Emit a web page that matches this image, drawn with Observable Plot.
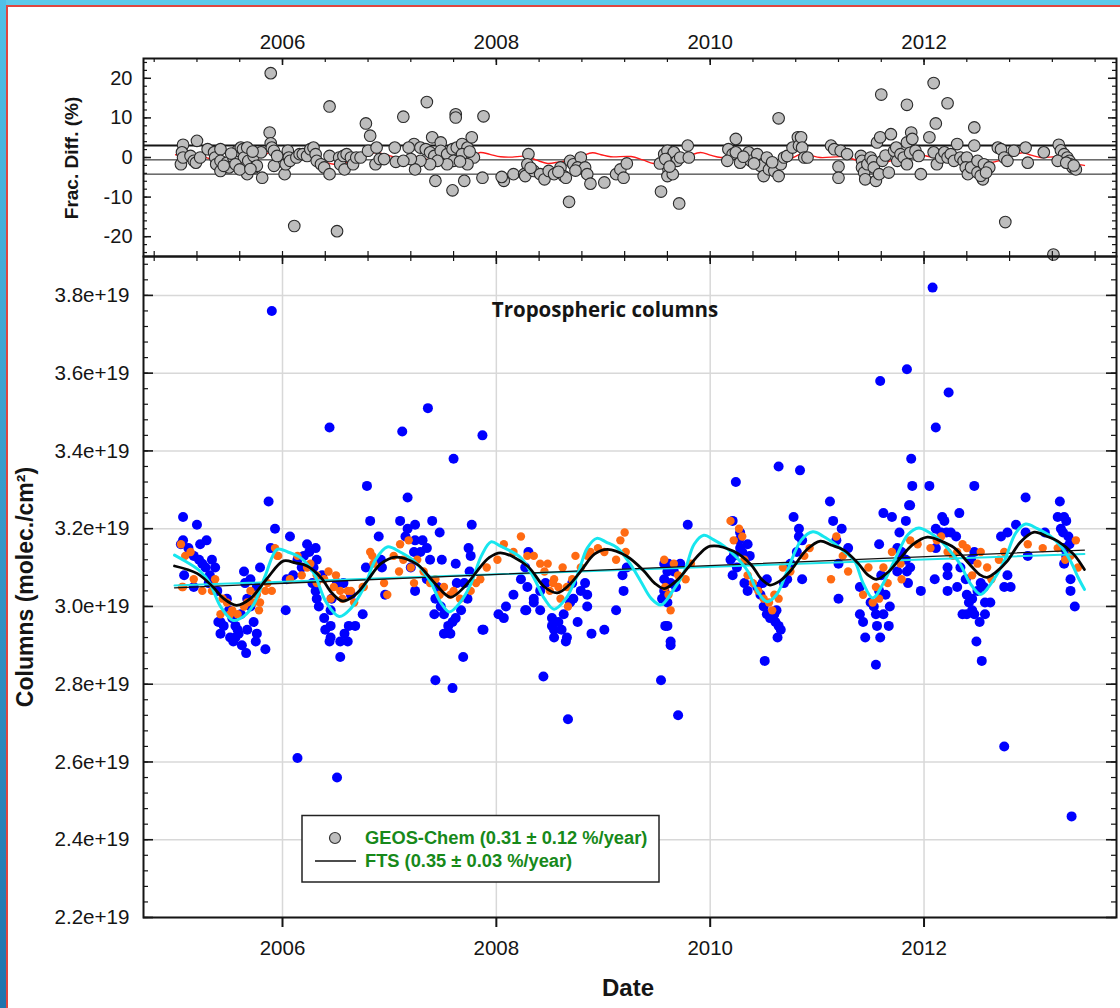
<!DOCTYPE html>
<html><head><meta charset="utf-8">
<script src="https://cdn.jsdelivr.net/npm/d3@7"></script>
<script src="https://cdn.jsdelivr.net/npm/@observablehq/plot@0.6"></script>
<style>
html,body{margin:0;padding:0;background:#fff;}
#page{position:relative;width:1120px;height:1008px;overflow:hidden;background:#fff;font-family:"Liberation Sans",Arial,sans-serif;}
.abs{position:absolute;}
</style></head><body>
<div id="page">
  <div id="top" class="abs" style="left:0;top:0"></div>
  <div id="main" class="abs" style="left:0;top:246px"></div>
  <svg id="overlay" class="abs" style="left:0;top:0;pointer-events:none" width="1120" height="1008"></svg>
  <div class="abs" style="left:0;top:0;width:1120px;height:5px;background:#5cc9ea"></div>
  <div class="abs" style="left:7px;top:5px;width:1113px;height:1.5px;background:#e0453f"></div>
  <div class="abs" style="left:0;top:0;width:6px;height:1008px;background:linear-gradient(#50c0e6,#1f74ad)"></div>
  <div class="abs" style="left:6px;top:5px;width:1.5px;height:1003px;background:#e0453f"></div>
</div>
<script>
// ---------------- data ----------------
const xDomain = [2004.70, 2013.80];
const xMajor = [2006, 2008, 2010, 2012];
const mainMajor = [2.2, 2.4, 2.6, 2.8, 3.0, 3.2, 3.4, 3.6, 3.8];
const fracMajor = [-20, -10, 0, 10, 20];
const fracMean = -0.6, fracStd = 3.6;
const chartTitle = "Tropospheric columns";
const legendLabels = ["GEOS-Chem (0.31 ± 0.12 %/year)", "FTS (0.35 ± 0.03 %/year)"];
const yTitle = "Columns (molec./cm²)", fracTitle = "Frac. Diff. (%)", xTitle = "Date";

// FTS observations (blue), value in 1e19 molec/cm2
const ftsObs = [
[2005.07,3.23],[2005.07,3.17],[2005.20,3.21],[2005.08,3.08],[2005.23,3.16],[2005.29,3.17],[2005.17,3.13],[2005.22,3.12],[2005.28,3.10],[2005.34,3.12],[2005.37,3.10],[2005.17,3.05],[2005.31,3.06],[2005.39,3.04],[2005.42,2.96],[2005.50,2.99],[2005.42,2.93],[2005.51,2.92],[2005.56,2.95],[2005.59,2.93],[2005.61,2.98],[2005.64,3.09],[2005.65,3.06],[2005.67,3.02],[2005.70,3.00],[2005.73,2.96],[2005.76,2.93],[2005.75,2.91],[2005.84,2.89],[2005.66,2.88],[2005.56,2.92],[2005.70,3.07],[2005.76,3.05],[2005.79,3.10],[2005.48,3.02],[2005.40,2.96],[2005.54,2.91],[2005.58,2.94],[2005.67,2.94],[2005.62,2.90],[2005.45,2.95],[2005.53,2.97],[2005.05,3.16],[2005.12,3.15],[2005.25,3.11],[2005.32,3.08],
[2005.90,3.76],[2005.87,3.27],[2005.93,3.20],[2005.89,3.15],
[2006.07,3.18],[2006.03,2.99],[2006.04,3.07],[2006.14,3.12],[2006.20,3.13],[2006.23,3.16],[2006.25,3.14],[2006.31,3.15],[2006.32,3.12],[2006.29,3.10],[2006.28,3.06],[2006.31,3.04],[2006.32,3.02],[2006.34,3.00],[2006.39,2.97],[2006.45,2.99],[2006.45,2.95],[2006.45,2.92],[2006.54,2.91],[2006.61,2.91],[2006.54,2.87],[2006.62,2.95],[2006.68,2.95],[2006.75,2.98],[2006.64,3.03],[2006.57,3.06],[2006.51,3.06],[2006.46,3.02],[2006.78,3.10],[2006.79,3.31],[2006.82,3.22],[2006.90,3.18],[2006.92,3.12],[2006.96,3.03],[2006.93,3.10],[2006.44,2.91],[2006.40,2.94],[2006.58,2.93],[2006.14,2.61],[2006.51,2.56],[2006.44,3.46],[2006.18,3.10],[2006.10,3.08],[2006.37,3.08],
[2007.10,3.22],[2007.17,3.28],[2007.17,3.20],[2007.15,3.18],[2007.24,3.21],[2007.24,3.17],[2007.31,3.17],[2007.29,3.14],[2007.23,3.14],[2007.40,3.22],[2007.47,3.19],[2007.35,3.15],[2007.38,3.12],[2007.24,3.04],[2007.35,3.07],[2007.43,3.02],[2007.42,2.98],[2007.48,3.00],[2007.51,2.98],[2007.51,2.93],[2007.57,2.93],[2007.59,2.96],[2007.62,2.97],[2007.67,2.99],[2007.63,3.06],[2007.49,3.12],[2007.62,3.11],[2007.70,3.06],[2007.73,3.02],[2007.75,3.09],[2007.74,3.15],[2007.76,3.13],[2007.77,3.21],[2007.87,2.94],[2007.69,2.87],[2007.43,2.81],[2007.59,2.79],[2007.12,3.45],[2007.36,3.51],[2007.60,3.38],[2007.87,3.44],[2007.88,2.94],[2007.55,2.95],[2007.45,3.05],[2007.20,3.10],
[2008.02,2.98],[2008.09,3.00],[2008.07,2.97],[2008.16,3.03],[2008.27,3.10],[2008.30,3.14],[2008.23,3.07],[2008.29,3.05],[2008.27,2.99],[2008.35,3.02],[2008.35,3.01],[2008.41,2.99],[2008.41,3.04],[2008.46,3.06],[2008.52,2.97],[2008.54,2.94],[2008.54,2.92],[2008.58,2.96],[2008.61,2.94],[2008.65,2.91],[2008.66,2.92],[2008.63,2.98],[2008.69,3.01],[2008.72,3.02],[2008.76,2.96],[2008.71,3.06],[2008.79,3.04],[2008.83,3.06],[2008.85,3.03],[2008.85,3.00],[2008.89,2.93],[2008.44,2.82],[2008.67,2.71],[2008.28,2.99],[2008.52,2.95],
[2009.01,2.94],[2009.12,2.99],[2009.19,3.04],[2009.18,3.08],[2009.22,3.10],[2009.79,3.21],[2009.57,3.11],[2009.61,3.11],[2009.72,3.11],[2009.60,3.09],[2009.66,3.09],[2009.57,3.07],[2009.63,3.06],[2009.68,3.05],[2009.57,3.04],[2009.55,3.02],[2009.60,3.01],[2009.58,2.95],[2009.63,2.91],[2009.63,2.90],[2009.60,2.95],[2009.54,2.81],[2009.70,2.72],[2009.64,3.10],
[2010.21,3.22],[2010.24,3.32],[2010.28,3.19],[2010.27,3.17],[2010.28,3.15],[2010.22,3.13],[2010.19,3.12],[2010.35,3.16],[2010.37,3.13],[2010.21,3.08],[2010.32,3.06],[2010.35,3.04],[2010.44,3.05],[2010.49,3.06],[2010.53,3.07],[2010.47,3.03],[2010.50,3.00],[2010.53,2.98],[2010.56,2.97],[2010.60,2.98],[2010.61,2.96],[2010.64,2.95],[2010.66,2.94],[2010.63,2.92],[2010.51,2.86],[2010.69,3.06],[2010.72,3.07],[2010.75,3.11],[2010.78,3.23],[2010.83,3.20],[2010.83,3.18],[2010.86,3.17],[2010.81,3.14],[2010.86,3.07],[2010.64,3.36],[2010.84,3.35],[2010.25,3.10],[2010.30,3.14],[2010.62,2.99],
[2011.12,3.27],[2011.15,3.22],[2011.23,3.20],[2011.18,3.17],[2011.29,3.15],[2011.20,3.11],[2011.20,3.02],[2011.40,3.05],[2011.40,2.98],[2011.43,2.96],[2011.45,2.92],[2011.53,3.00],[2011.55,2.98],[2011.56,2.95],[2011.59,2.92],[2011.62,2.98],[2011.67,2.95],[2011.68,3.00],[2011.64,3.03],[2011.58,3.04],[2011.58,3.16],[2011.62,3.24],[2011.70,3.23],[2011.75,3.15],[2011.77,3.19],[2011.77,3.12],[2011.83,3.22],[2011.86,3.26],[2011.89,3.31],[2011.88,3.38],[2011.83,3.12],[2011.84,3.09],[2011.87,3.10],[2011.85,3.06],[2011.97,3.04],[2011.79,3.14],[2011.75,3.09],[2011.55,2.85],[2011.59,3.58],[2011.84,3.61],[2011.87,3.26],[2011.50,3.01],[2011.60,3.08],
[2012.05,3.31],[2012.11,3.20],[2012.17,3.23],[2012.19,3.22],[2012.16,3.19],[2012.21,3.19],[2012.25,3.19],[2012.30,3.18],[2012.33,3.24],[2012.11,3.15],[2012.22,3.10],[2012.22,3.08],[2012.10,3.07],[2012.22,3.04],[2012.31,3.05],[2012.34,3.10],[2012.39,3.07],[2012.44,3.12],[2012.47,3.14],[2012.40,3.03],[2012.36,2.98],[2012.40,2.98],[2012.45,2.99],[2012.45,3.02],[2012.50,3.04],[2012.53,3.06],[2012.56,3.05],[2012.57,3.01],[2012.62,3.01],[2012.57,2.98],[2012.47,2.98],[2012.49,2.91],[2012.54,2.86],[2012.47,3.31],[2012.75,3.05],[2012.81,3.05],[2012.78,3.08],[2012.72,3.18],[2012.78,3.19],[2012.86,3.21],[2012.95,3.28],[2012.97,3.13],[2012.95,3.19],[2012.08,3.82],[2012.11,3.46],[2012.23,3.55],[2012.75,2.64],[2012.52,2.96],[2012.42,3.01],
[2013.13,3.19],[2013.27,3.27],[2013.25,3.23],[2013.31,3.23],[2013.33,3.22],[2013.30,3.19],[2013.35,3.18],[2013.36,3.16],[2013.31,3.15],[2013.31,3.11],[2013.37,3.07],[2013.37,3.04],[2013.41,3.00],[2013.38,2.46],[2013.28,3.20],[2013.33,3.13]
];

// GEOS-Chem model columns (orange)
const gcObs = [
[2005.05,3.16],[2005.09,3.13],[2005.06,3.05],[2005.17,3.07],[2005.25,3.04],[2005.34,3.04],[2005.37,3.07],[2005.44,3.02],[2005.42,2.98],[2005.48,3.01],[2005.53,2.99],[2005.67,3.01],[2005.73,3.01],[2005.78,2.99],[2005.76,3.03],[2005.86,3.06],[2005.90,3.04],[2005.93,3.15],[2005.96,3.13],[2006.07,3.07],[2006.18,3.08],[2006.26,3.11],[2006.32,3.06],[2006.43,3.09],[2006.50,3.08],[2006.45,3.02],[2006.61,3.04],[2006.67,3.01],[2006.75,3.05],[2006.84,3.13],[2006.95,3.06],[2006.98,3.03],[2005.14,3.14],[2005.07,3.05],[2005.51,2.98],[2005.58,2.98],[2005.64,3.00],[2005.70,3.04],[2005.79,3.01],[2005.84,3.04],[2005.95,3.13],[2006.14,3.13],[2006.23,3.10],[2006.32,3.08],[2006.39,3.07],[2006.48,3.05],[2006.54,3.04],[2006.56,3.02],[2006.64,3.04],[2006.76,3.05],[2006.82,3.14],[2006.85,3.11],
[2007.09,3.09],[2007.13,3.12],[2007.10,3.16],[2007.18,3.17],[2007.20,3.10],[2007.23,3.06],[2007.26,3.12],[2007.32,3.09],[2007.38,3.06],[2007.43,3.07],[2007.51,3.05],[2007.57,3.03],[2007.60,3.04],[2007.66,3.02],[2007.76,3.04],[2007.81,3.06],[2007.85,3.07],[2007.91,3.10],[2008.01,3.12],[2007.04,3.13],[2007.47,3.03],
[2008.07,3.16],[2008.16,3.14],[2008.23,3.18],[2008.29,3.13],[2008.35,3.13],[2008.41,3.11],[2008.48,3.11],[2008.45,3.09],[2008.54,3.07],[2008.62,3.10],[2008.58,3.05],[2008.53,3.06],[2008.60,3.02],[2008.66,3.05],[2008.71,3.07],[2008.74,3.13],[2008.79,3.10],[2008.85,3.13],[2008.88,3.14],[2008.50,3.04],[2008.67,3.00],[2008.95,3.15],
[2009.01,3.14],[2009.12,3.12],[2009.16,3.17],[2009.20,3.19],[2009.21,3.14],[2009.57,3.12],[2009.66,3.11],[2009.77,3.07],[2009.63,2.99],[2009.58,3.05],[2009.61,3.03],[2009.70,3.08],[2009.82,3.11],
[2010.19,3.22],[2010.27,3.20],[2010.30,3.18],[2010.32,3.12],[2010.35,3.08],[2010.50,3.02],[2010.55,3.01],[2010.60,3.03],[2010.64,3.02],[2010.68,3.10],[2010.88,3.13],[2010.93,3.15],[2010.40,3.06],[2010.45,3.04],[2010.58,2.99],[2010.75,3.09],[2010.22,3.17],
[2011.13,3.07],[2011.18,3.18],[2011.29,3.09],[2011.43,3.03],[2011.48,3.10],[2011.55,3.05],[2011.62,3.10],[2011.70,3.14],[2011.78,3.11],[2011.79,3.07],[2011.87,3.17],[2011.94,3.16],[2011.52,3.01],[2011.58,3.02],[2011.66,3.06],[2011.24,3.13],
[2012.06,3.15],[2012.16,3.18],[2012.22,3.14],[2012.31,3.14],[2012.36,3.16],[2012.40,3.15],[2012.50,3.11],[2012.53,3.14],[2012.59,3.10],[2012.70,3.12],[2012.75,3.14],[2012.97,3.16],[2012.45,3.08],[2012.63,3.07],[2012.27,3.13],[2012.12,3.17],
[2013.11,3.15],[2013.25,3.15],[2013.42,3.17],[2013.37,3.13],[2013.44,3.10],[2013.32,3.12]
];

// FTS fit (black) and GEOS-Chem fit (cyan)
const ftsFit = [[2004.99,3.104],[2005.20,3.085],[2005.35,3.05],[2005.45,3.02],[2005.57,3.003],[2005.70,3.02],[2005.85,3.07],[2006.01,3.117],[2006.12,3.112],[2006.23,3.104],[2006.36,3.074],[2006.46,3.035],[2006.56,3.014],[2006.68,3.03],[2006.79,3.065],[2006.92,3.11],[2007.06,3.127],[2007.26,3.108],[2007.42,3.061],[2007.57,3.024],[2007.70,3.05],[2007.82,3.091],[2007.93,3.125],[2008.04,3.138],[2008.29,3.104],[2008.45,3.05],[2008.57,3.035],[2008.68,3.055],[2008.79,3.091],[2008.92,3.135],[2009.04,3.147],[2009.22,3.129],[2009.38,3.091],[2009.48,3.06],[2009.57,3.046],[2009.68,3.065],[2009.79,3.099],[2009.90,3.135],[2010.00,3.155],[2010.22,3.142],[2010.38,3.108],[2010.48,3.07],[2010.56,3.055],[2010.65,3.065],[2010.75,3.091],[2010.90,3.145],[2011.03,3.168],[2011.13,3.158],[2011.25,3.145],[2011.38,3.112],[2011.48,3.08],[2011.56,3.070],[2011.67,3.09],[2011.78,3.125],[2011.90,3.16],[2012.03,3.178],[2012.16,3.168],[2012.28,3.151],[2012.44,3.104],[2012.52,3.082],[2012.59,3.075],[2012.68,3.09],[2012.78,3.117],[2012.90,3.165],[2013.03,3.191],[2013.15,3.18],[2013.25,3.168],[2013.40,3.134],[2013.50,3.095]];
const gcFit = [[2004.99,3.132],[2005.10,3.115],[2005.23,3.091],[2005.32,3.06],[2005.42,3.00],[2005.54,2.964],[2005.64,2.975],[2005.73,3.005],[2005.84,3.08],[2005.95,3.147],[2006.05,3.14],[2006.17,3.125],[2006.29,3.087],[2006.41,3.01],[2006.53,2.974],[2006.64,2.995],[2006.76,3.048],[2006.87,3.12],[2006.98,3.153],[2007.10,3.14],[2007.23,3.117],[2007.38,3.065],[2007.48,3.01],[2007.56,2.986],[2007.66,3.01],[2007.76,3.057],[2007.86,3.13],[2007.95,3.166],[2008.04,3.155],[2008.23,3.125],[2008.35,3.074],[2008.45,3.02],[2008.54,2.993],[2008.65,3.02],[2008.76,3.082],[2008.85,3.15],[2008.94,3.175],[2009.03,3.165],[2009.13,3.151],[2009.25,3.11],[2009.35,3.065],[2009.45,3.02],[2009.54,3.004],[2009.65,3.04],[2009.76,3.091],[2009.85,3.16],[2009.94,3.183],[2010.03,3.172],[2010.13,3.155],[2010.25,3.125],[2010.35,3.091],[2010.44,3.04],[2010.53,3.012],[2010.62,3.03],[2010.72,3.091],[2010.85,3.17],[2010.96,3.192],[2011.06,3.18],[2011.16,3.162],[2011.26,3.14],[2011.35,3.117],[2011.43,3.06],[2011.52,3.022],[2011.62,3.06],[2011.75,3.134],[2011.85,3.185],[2011.95,3.202],[2012.05,3.19],[2012.16,3.168],[2012.25,3.14],[2012.34,3.108],[2012.43,3.06],[2012.53,3.031],[2012.63,3.06],[2012.75,3.117],[2012.86,3.19],[2012.95,3.212],[2013.06,3.2],[2013.18,3.181],[2013.28,3.155],[2013.37,3.117],[2013.44,3.075],[2013.50,3.044]];
const ftsTrend = [[2004.99,3.048],[2013.50,3.145]];
const gcTrend = [[2004.99,3.054],[2013.50,3.135]];

// Fractional difference (%) points and fit
const fracDiff = [
[2005.05,-1.7],[2005.07,3.2],[2005.06,1.3],[2005.07,0],[2005.14,0.4],[2005.20,4.2],[2005.17,-0.85],[2005.19,-1.3],[2005.23,0],[2005.30,2.1],[2005.36,1.3],[2005.37,0],[2005.38,-1.7],[2005.42,-3.4],[2005.42,2.1],[2005.42,-0.85],[2005.48,-1.3],[2005.54,0],[2005.58,1.7],[2005.61,2.5],[2005.63,2.1],[2005.64,0],[2005.67,2.5],[2005.67,-4.2],[2005.68,-0.85],[2005.73,0.4],[2005.74,-2.5],[2005.76,-2.1],[2005.81,-5.1],[2005.80,1.3],[2005.88,6.3],[2005.89,21.3],[2005.89,3.6],[2005.90,2.5],[2005.92,1.7],[2005.92,-2.1],[2005.95,0.4],[2006.02,-4.2],[2006.03,-1.7],[2006.05,1.7],[2006.06,0],[2006.07,-0.85],[2006.11,-17.3],[2006.13,0],[2006.16,0.85],[2006.19,0.85],[2006.23,0.4],[2006.26,2.1],[2006.29,2.5],[2006.31,0.85],[2006.32,-0.85],[2006.36,-1.7],[2006.39,-2.5],[2006.44,-4.2],[2006.44,12.9],[2006.44,0.4],[2006.51,-18.6],[2006.53,0],[2006.54,-1.7],[2006.57,0.4],[2006.58,-3.0],[2006.60,0.85],[2006.64,0],[2006.66,-1.7],[2006.69,0],[2006.73,0],[2006.78,8.6],[2006.80,1.7],[2006.82,5.5],[2006.87,-1.7],[2006.88,2.5],[2006.91,-0.4],[2006.95,-0.4],[2007.05,2.5],[2007.06,-1.1],
[2005.50,-2.5],[2005.52,1.0],[2005.56,-1.7],[2005.60,-3.0],[2005.45,-2.1],[2005.70,-2.9],[2005.72,1.5],
[2007.13,10.3],[2007.35,14.0],[2007.62,10.9],[2007.62,10.1],[2007.88,10.4],[2007.40,5.1],[2007.48,3.8],[2007.23,3.4],[2007.18,2.5],[2007.29,2.5],[2007.34,2.1],[2007.38,1.3],[2007.42,0.4],[2007.48,1.7],[2007.54,0.85],[2007.59,2.1],[2007.63,2.5],[2007.68,3.4],[2007.73,2.5],[2007.77,5.1],[2007.79,0],[2007.73,-1.7],[2007.68,0.85],[2007.60,-0.85],[2007.54,-1.7],[2007.45,-0.85],[2007.38,-1.7],[2007.29,-0.85],[2007.24,-3.0],[2007.20,-0.4],[2007.13,-0.85],[2007.43,-5.9],[2007.59,-8.3],[2007.70,-5.9],[2007.87,-5.1],[2007.75,1.5],[2007.66,-1.0],
[2008.07,-5.9],[2008.05,-4.9],[2008.16,-4.2],[2008.26,-4.2],[2008.30,0.85],[2008.29,-1.7],[2008.27,-4.7],[2008.35,-3.4],[2008.41,-4.2],[2008.45,-5.5],[2008.49,-3.4],[2008.54,-4.2],[2008.60,-2.5],[2008.63,-4.7],[2008.65,-5.1],[2008.68,-11.2],[2008.69,-0.85],[2008.72,-1.7],[2008.79,0],[2008.76,-2.5],[2008.83,-2.5],[2008.85,-4.2],[2008.88,-6.6],[2008.32,-2.6],[2008.58,-3.6],[2008.74,-3.3],
[2009.01,-6.3],[2009.12,-4.2],[2009.16,-3.0],[2009.19,-5.1],[2009.22,-1.5],[2009.54,-8.6],[2009.71,-11.6],[2009.57,0.85],[2009.60,1.7],[2009.63,0],[2009.66,1.3],[2009.69,-0.85],[2009.72,0],[2009.60,-1.7],[2009.61,-3.0],[2009.60,-4.7],[2009.65,-4.2],[2009.53,-1.5],[2009.79,3.0],[2009.80,0],[2009.58,-0.4],[2009.62,-2.3],
[2010.64,9.9],[2010.24,4.7],[2010.17,2.1],[2010.21,0.85],[2010.16,-0.85],[2010.24,1.3],[2010.28,-1.3],[2010.36,1.3],[2010.38,-0.85],[2010.44,0.85],[2010.47,-2.1],[2010.50,-4.7],[2010.53,0],[2010.55,-3.0],[2010.60,-3.4],[2010.64,-4.7],[2010.66,-1.7],[2010.69,0],[2010.72,0.4],[2010.77,2.5],[2010.82,5.1],[2010.83,3.0],[2010.85,5.1],[2010.86,2.5],[2010.88,0],[2010.91,0],[2010.31,0.2],[2010.41,-1.5],[2010.58,-1.2],
[2011.13,3.0],[2011.16,2.1],[2011.22,1.7],[2011.28,0.85],[2011.20,-2.3],[2011.20,-5.1],[2011.41,0.4],[2011.42,-0.85],[2011.42,-2.5],[2011.44,-3.8],[2011.45,-5.5],[2011.47,-1.7],[2011.50,0],[2011.52,-0.85],[2011.53,-2.5],[2011.55,-5.9],[2011.56,3.8],[2011.59,5.1],[2011.60,15.9],[2011.58,-4.2],[2011.61,-0.85],[2011.64,0.5],[2011.67,-3.8],[2011.69,5.9],[2011.72,1.7],[2011.74,2.5],[2011.75,-0.85],[2011.78,0.85],[2011.81,0],[2011.84,13.3],[2011.84,3.8],[2011.88,6.3],[2011.89,4.7],[2011.87,1.2],[2011.84,-1.7],[2011.92,1.7],[2011.95,0.4],[2011.97,-4.2],
[2012.05,5.1],[2012.09,18.8],[2012.11,8.6],[2012.22,13.7],[2012.09,1.3],[2012.12,-1.7],[2012.16,0],[2012.19,1.3],[2012.22,0],[2012.25,0.85],[2012.28,-0.85],[2012.31,3.4],[2012.34,0],[2012.37,-0.85],[2012.40,0],[2012.39,-2.5],[2012.41,-4.2],[2012.44,-2.5],[2012.47,7.6],[2012.47,3.0],[2012.50,-0.85],[2012.50,-3.8],[2012.55,-5.5],[2012.56,-1.7],[2012.61,-2.5],[2012.69,2.5],[2012.72,2.1],[2012.75,0],[2012.76,-16.3],[2012.78,-0.85],[2012.84,1.7],[2012.95,2.5],[2012.97,-1.3],[2012.53,-4.6],[2012.58,-3.8],
[2013.12,1.3],[2013.21,-24.5],[2013.26,3.2],[2013.28,1.8],[2013.31,0.85],[2013.34,0],[2013.36,-0.85],[2013.37,-1.7],[2013.39,-2.5],[2013.42,-3.0],[2013.25,-0.85],[2013.33,-1.3],[2013.40,-2.0]
];
const fracFit = [[2005.0,0.69],[2005.12,0.5],[2005.23,0.43],[2005.35,-0.6],[2005.48,-1.7],[2005.60,-1.3],[2005.73,-0.66],[2005.82,0.5],[2005.90,1.45],[2005.98,1.0],[2006.07,0.34],[2006.23,0.18],[2006.36,-0.8],[2006.48,-1.7],[2006.60,-1.3],[2006.70,-0.66],[2006.79,0.4],[2006.87,1.27],[2006.96,0.8],[2007.07,0],[2007.23,0.34],[2007.36,-0.6],[2007.48,-1.5],[2007.60,-1.1],[2007.73,-0.4],[2007.80,0.6],[2007.85,1.27],[2007.94,0.8],[2008.04,0.18],[2008.15,0.1],[2008.26,0.34],[2008.37,-0.6],[2008.48,-1.5],[2008.59,-1.1],[2008.69,-0.66],[2008.80,0.4],[2008.90,1.19],[2008.98,0.7],[2009.07,0.18],[2009.26,0.25],[2009.37,-0.6],[2009.47,-1.5],[2009.58,-1.1],[2009.69,-0.66],[2009.80,0.4],[2009.91,1.27],[2010.00,0.6],[2010.10,0],[2010.25,0.25],[2010.38,-0.9],[2010.50,-1.9],[2010.61,-1.4],[2010.72,-0.66],[2010.80,0.3],[2010.85,0.9],[2010.93,0.6],[2011.03,0],[2011.25,0.18],[2011.38,-0.8],[2011.50,-1.7],[2011.60,-1.4],[2011.69,-0.85],[2011.78,0.2],[2011.87,1.1],[2011.98,0.6],[2012.10,0],[2012.28,0.18],[2012.39,-0.9],[2012.50,-1.85],[2012.61,-1.4],[2012.72,-0.66],[2012.82,0.4],[2012.92,1.19],[2013.00,0.6],[2013.09,0],[2013.25,0.18],[2013.33,-0.5],[2013.40,-1.4],[2013.50,-2.0]];

// ---------------- tick positions ----------------
const xMinor = d3.range(23).map(i => Math.round((2004.8 + 0.4 * i) * 10) / 10);
const mainMinor = d3.range(43).map(i => Math.round((2.2 + 0.04 * i) * 100) / 100);
const fracMinor = d3.range(-24, 25, 2);

const X = d => d[0], Y = d => d[1], I = d => d;
const W = 1120, FONT = "'Liberation Sans', Arial, sans-serif", INK = "#151515";
const lab = {fill: INK, fontFamily: FONT, fontWeight: "normal"};

// ---------------- top panel ----------------
const tM = {t: 58, r: 4, b: 4, l: 143}, tH = 260;
const tpw = W - tM.l - tM.r, tph = tH - tM.t - tM.b;
const topPlot = Plot.plot({
  width: W, height: tH, marginTop: tM.t, marginRight: tM.r, marginBottom: tM.b, marginLeft: tM.l,
  style: {fontFamily: FONT, fontSize: "20px", color: INK, background: "transparent", overflow: "visible"},
  x: {domain: xDomain, axis: null}, y: {domain: [-25, 25], axis: null},
  marks: [
    Plot.ruleY([fracMean + fracStd], {stroke: INK, strokeWidth: 2}),
    Plot.ruleY([fracMean, fracMean - fracStd], {stroke: INK, strokeWidth: 1}),
    Plot.line(fracFit, {x: X, y: Y, stroke: "#ff1a1a", strokeWidth: 1.4, curve: "catmull-rom"}),
    Plot.dot(fracDiff, {x: X, y: Y, r: 5.8, fill: "#bdbdbd", stroke: "#2a2a2a", strokeWidth: 1.1}),
    Plot.frame({stroke: INK, strokeWidth: 2}),
    Plot.tickX(xMinor, {x: I, insetBottom: tph - 4, stroke: INK, strokeWidth: 1.2}),
    Plot.tickX(xMajor, {x: I, insetBottom: tph - 7, stroke: INK, strokeWidth: 1.6}),
    Plot.tickX(xMinor, {x: I, insetTop: tph - 5, stroke: INK, strokeWidth: 1.2}),
    Plot.tickY(fracMinor, {y: I, insetRight: tpw - 4, stroke: INK, strokeWidth: 1.2}),
    Plot.tickY(fracMajor, {y: I, insetRight: tpw - 8, stroke: INK, strokeWidth: 1.5}),
    Plot.tickY(fracMinor, {y: I, insetLeft: tpw - 4, stroke: INK, strokeWidth: 1.2}),
    Plot.tickY(fracMajor, {y: I, insetLeft: tpw - 8, stroke: INK, strokeWidth: 1.5}),
    Plot.text(xMajor, {...lab, x: I, text: d => String(d), frameAnchor: "top", dy: -10, lineAnchor: "bottom", fontSize: 20.5}),
    Plot.text(fracMajor, {...lab, y: I, text: d => String(d), frameAnchor: "left", dx: -11, textAnchor: "end", fontSize: 20})
  ]
});
document.getElementById("top").appendChild(topPlot);

// ---------------- main panel ----------------
const mM = {t: 10, r: 4, b: 91, l: 143}, mH = 762;
const mpw = W - mM.l - mM.r, mph = mH - mM.t - mM.b;
const mainPlot = Plot.plot({
  width: W, height: mH, marginTop: mM.t, marginRight: mM.r, marginBottom: mM.b, marginLeft: mM.l,
  style: {fontFamily: FONT, fontSize: "20px", color: INK, background: "transparent", overflow: "visible"},
  x: {domain: xDomain, axis: null}, y: {domain: [2.2, 3.9], axis: null},
  marks: [
    Plot.gridX(xMajor, {stroke: "#d8d8d8", strokeOpacity: 1, strokeWidth: 1.5}),
    Plot.gridY(mainMajor, {stroke: "#d8d8d8", strokeOpacity: 1, strokeWidth: 1.5}),
    Plot.dot(ftsObs, {x: X, y: Y, r: 5, fill: "#0000ff"}),
    Plot.dot(gcObs, {x: X, y: Y, r: 4.2, fill: "#ff6a12"}),
    Plot.line(gcTrend, {x: X, y: Y, stroke: "#1fe3e8", strokeWidth: 2}),
    Plot.line(ftsTrend, {x: X, y: Y, stroke: "#111", strokeWidth: 1.3}),
    Plot.line(gcFit, {x: X, y: Y, stroke: "#17e6ee", strokeWidth: 3, curve: "catmull-rom"}),
    Plot.line(ftsFit, {x: X, y: Y, stroke: "#050505", strokeWidth: 2.8, curve: "catmull-rom"}),
    Plot.frame({stroke: INK, strokeWidth: 2}),
    Plot.tickY(mainMinor, {y: I, insetRight: mpw - 5, stroke: INK, strokeWidth: 1.2}),
    Plot.tickY(mainMajor, {y: I, insetRight: mpw - 10, stroke: INK, strokeWidth: 1.6}),
    Plot.tickY(mainMinor, {y: I, insetLeft: mpw - 5, stroke: INK, strokeWidth: 1.2}),
    Plot.tickY(mainMajor, {y: I, insetLeft: mpw - 10, stroke: INK, strokeWidth: 1.6}),
    Plot.tickX(xMinor, {x: I, insetBottom: mph - 5, stroke: INK, strokeWidth: 1.2}),
    Plot.tickX(xMajor, {x: I, insetBottom: mph - 8, stroke: INK, strokeWidth: 1.6}),
    Plot.tickX(xMajor, {x: I, insetTop: mph, insetBottom: -10, stroke: INK, strokeWidth: 2}),
    Plot.text(xMajor, {...lab, x: I, text: d => String(d), frameAnchor: "bottom", dy: 23, lineAnchor: "top", fontSize: 20.5}),
    Plot.text(mainMajor, {...lab, y: I, text: d => d.toFixed(1) + "e+19", frameAnchor: "left", dx: -14, textAnchor: "end", fontSize: 20.6}),
    Plot.text([chartTitle], {text: I, frameAnchor: "top", dx: -25, dy: 60, lineAnchor: "bottom", fontFamily: "'Open Sans', sans-serif", fontWeight: "bold", fontSize: 20.5, fill: INK})
  ]
});
document.getElementById("main").appendChild(mainPlot);

// ---------------- titles & legend (overlay) ----------------
const ns = "http://www.w3.org/2000/svg";
const ov = document.getElementById("overlay");
function el(tag, attrs, text) {
  const e = document.createElementNS(ns, tag);
  for (const k in attrs) e.setAttribute(k, attrs[k]);
  if (text != null) e.textContent = text;
  ov.appendChild(e);
  return e;
}
const bold = {"font-family": FONT, "font-weight": "bold", fill: INK};
el("text", {...bold, "font-size": 19, "text-anchor": "middle", transform: "translate(78,158) rotate(-90)"}, fracTitle);
el("text", {...bold, "font-size": 23, "text-anchor": "middle", transform: "translate(33,587) rotate(-90)"}, yTitle);
el("text", {...bold, "font-size": 24, "text-anchor": "middle", x: 628, y: 996}, xTitle);
// legend
el("rect", {x: 302, y: 815.5, width: 357, height: 66.5, fill: "#fff", stroke: "#222", "stroke-width": 1.5});
el("circle", {cx: 335, cy: 838, r: 5.5, fill: "#bdbdbd", stroke: "#333", "stroke-width": 1.2});
el("line", {x1: 315, x2: 356, y1: 861, y2: 861, stroke: "#111", "stroke-width": 1.6});
el("text", {...bold, fill: "#17891a", "font-size": 18.3, x: 365, y: 844}, legendLabels[0]);
el("text", {...bold, fill: "#17891a", "font-size": 18.3, x: 365, y: 867}, legendLabels[1]);
</script>
</body></html>
